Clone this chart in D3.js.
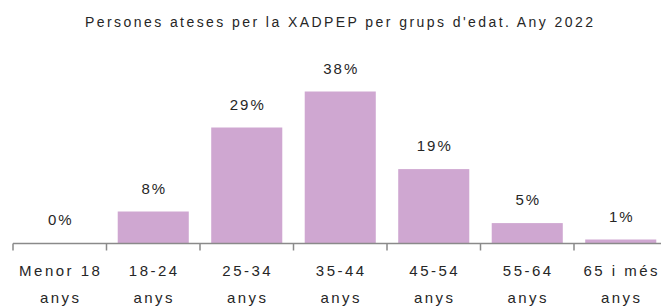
<!DOCTYPE html>
<html lang="ca">
  <head>
    <meta charset="utf-8">
    <title>Persones ateses per la XADPEP</title>
    <script src="https://d3js.org/d3.v7.min.js"></script>
    <style type="text/css">
      body { margin: 0; background: #fff; }
      text { font-family: "Liberation Sans", Arial, sans-serif; fill: #262626; }
      .bar { fill: #cfa7d1; }
    </style>
  </head>
  <body>
    <script>
      var w = 661;
      var h = 306;

      var title = "Persones ateses per la XADPEP per grups d'edat. Any 2022";
      var groups = ["Menor 18", "18-24", "25-34", "35-44", "45-54", "55-64", "65 i més"];
      var groupSub = ["anys", "anys", "anys", "anys", "anys", "anys", "anys"];
      var shares = [0.1, 8, 29, 38, 18.6, 5.1, 1];
      var shareLabels = ["0%", "8%", "29%", "38%", "19%", "5%", "1%"];

      var svg = d3.select("body").append("svg")
          .attr("width", w).attr("height", h);

      var x0 = 13, step = 93.5, axisY = 243.5;

      var xScale = d3.scaleBand()
        .domain(groups)
        .range([x0, x0 + step * groups.length])
        .paddingInner(0.24)
        .paddingOuter(0.12);

      var yScale = d3.scaleLinear()
        .domain([0, 38])
        .range([axisY, axisY - 152]);

      svg.append("text")
         .attr("x", 85).attr("y", 27)
         .attr("textLength", 508)
         .attr("lengthAdjust", "spacing")
         .style("font-size", "14px")
         .text(title);

      svg.selectAll(".bar")
         .data(shares)
         .enter().append("rect")
         .attr("class", "bar")
         .attr("x", (d, i) => xScale(groups[i]))
         .attr("width", xScale.bandwidth())
         .attr("y", d => yScale(d))
         .attr("height", d => axisY - yScale(d));

      svg.selectAll(".lbl")
         .data(shares)
         .enter().append("text")
         .attr("class", "lbl")
         .attr("x", (d, i) => xScale(groups[i]) + xScale.bandwidth() / 2 + 1)
         .attr("y", d => yScale(d) - 18)
         .attr("text-anchor", "middle")
         .style("font-size", "15px")
         .style("letter-spacing", "2px")
         .text((d, i) => shareLabels[i]);

      // axis line with ticks at band boundaries
      var tickX = d3.range(groups.length + 1).map(i => x0 + step * i);
      svg.append("line")
         .attr("x1", x0).attr("x2", w)
         .attr("y1", axisY).attr("y2", axisY)
         .attr("stroke", "#8a8a8a").attr("stroke-width", 1.5);
      svg.selectAll(".tick")
         .data(tickX)
         .enter().append("line")
         .attr("x1", d => d).attr("x2", d => d)
         .attr("y1", axisY).attr("y2", axisY + 7)
         .attr("stroke", "#8a8a8a").attr("stroke-width", 1.5);

      var catX = d => x0 + step * groups.indexOf(d) + step / 2 + 1;
      var cats = svg.selectAll(".cat")
         .data(groups)
         .enter().append("text")
         .attr("class", "cat")
         .attr("text-anchor", "middle")
         .style("font-size", "15px")
         .style("letter-spacing", "2.5px")
         .attr("x", catX);
      cats.append("tspan").attr("y", 276).text(d => d);
      cats.append("tspan")
         .attr("x", catX)
         .attr("y", 303).text((d, i) => groupSub[i]);
    </script>
  </body>
</html>
